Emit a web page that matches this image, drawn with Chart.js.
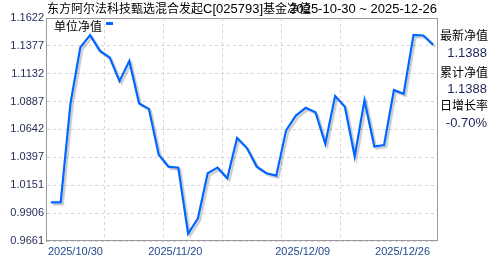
<!DOCTYPE html>
<html>
<head>
<meta charset="utf-8">
<script src="https://cdn.jsdelivr.net/npm/chart.js@4"></script>
<style>
  body { margin: 0; background: #fff; }
  #wrap { position: relative; width: 488px; height: 255px; font-family: 'Liberation Sans', 'Noto Sans CJK SC', sans-serif; }
  #wrap div { position: absolute; white-space: nowrap; }
  .cn { font-size: 12px; line-height: 14px; color: #000; }
  .lat { font-size: 13px; line-height: 14px; color: #000; }
  .num { font-size: 13px; line-height: 15px; color: #1c2458; }
</style>
</head>
<body>
<div id="wrap">
  <canvas id="nav" width="488" height="255"></canvas>
  <div class="lat" id="title" style="left:47px; top:2px;"></div>
  <div class="lat" id="range" style="right:51px; top:2px;"></div>
  <div class="cn" style="left:54px; top:20px;">单位净值<span style="display:inline-block; width:7px; height:3px; background:#0066ff; margin-left:4px; vertical-align:6px;"></span></div>
  <div class="cn" style="left:440px; top:29px;">最新净值</div>
  <div class="num" id="latest" style="right:1px; top:45px;"></div>
  <div class="cn" style="left:440px; top:66px;">累计净值</div>
  <div class="num" id="total" style="right:1px; top:81px;"></div>
  <div class="cn" style="left:440px; top:99px;">日增长率</div>
  <div class="num" id="change" style="right:1px; top:115px;"></div>
</div>
<script>
const fundName = ['东方阿尔法科技甄选混合发起', 'C[025793]', '基金净值'];

const dates = [
  '2025-10-30',
  '2025-11-04', '2025-11-05', '2025-11-06', '2025-11-07',
  '2025-11-10', '2025-11-11', '2025-11-12', '2025-11-13', '2025-11-14',
  '2025-11-17', '2025-11-18', '2025-11-19', '2025-11-20', '2025-11-21',
  '2025-11-24', '2025-11-25', '2025-11-26', '2025-11-27', '2025-11-28',
  '2025-12-01', '2025-12-02', '2025-12-03', '2025-12-04', '2025-12-05',
  '2025-12-08', '2025-12-09', '2025-12-10', '2025-12-11', '2025-12-12',
  '2025-12-15', '2025-12-16', '2025-12-17', '2025-12-18', '2025-12-19',
  '2025-12-22', '2025-12-23', '2025-12-24', '2025-12-25', '2025-12-26'
];

const unitNav = [
  1.0000, 1.0000, 1.0870, 1.1363, 1.1472, 1.1333, 1.1274, 1.1067, 1.1244, 1.0870,
  1.0823, 1.0419, 1.0315, 1.0306, 0.9726, 0.9859, 1.0257, 1.0306, 1.0212, 1.0567,
  1.0478, 1.0315, 1.0257, 1.0236, 1.0634, 1.0764, 1.0832, 1.0793, 1.0516, 1.0935,
  1.0841, 1.0404, 1.0899, 1.0492, 1.0505, 1.0988, 1.0956, 1.1474, 1.1468, 1.1388
];

const yTicks = [0.9661, 0.9906, 1.0151, 1.0397, 1.0642, 1.0887, 1.1132, 1.1377, 1.1622];
const xTickDates = ['2025-10-30', '2025-11-20', '2025-12-09', '2025-12-26'];

// texts around the chart
const last = unitNav[unitNav.length - 1];
const prev = unitNav[unitNav.length - 2];
const title = document.getElementById('title');
fundName.forEach((t, i) => {
  const s = document.createElement('span');
  s.textContent = t;
  if (i !== 1) s.style.fontSize = '12px';
  title.appendChild(s);
});
document.getElementById('range').textContent = dates[0] + ' ~ ' + dates[dates.length - 1];
document.getElementById('latest').textContent = last.toFixed(4);
document.getElementById('total').textContent = last.toFixed(4);
document.getElementById('change').textContent = ((last / prev - 1) * 100).toFixed(2) + '%';

const gridDash = { display: true, color: '#d6d6d6', lineWidth: 1, drawTicks: false };

// shadow under the line + box round the plot
const lineShadow = {
  id: 'lineShadow',
  beforeDatasetsDraw(chart) {
    const c = chart.ctx;
    c.save();
    c.shadowColor = 'rgba(0,0,0,0.22)';
    c.shadowOffsetX = 2;
    c.shadowOffsetY = 2;
    c.shadowBlur = 1;
  },
  afterDatasetsDraw(chart) {
    chart.ctx.restore();
  },
  afterDraw(chart) {
    const a = chart.chartArea, c = chart.ctx;
    c.save();
    c.strokeStyle = '#9a9a9a';
    c.lineWidth = 1;
    c.strokeRect(Math.round(a.left) + 0.5, Math.round(a.top) + 0.5, Math.round(a.right - a.left) - 1, Math.round(a.bottom - a.top) - 1);
    c.restore();
  }
};

new Chart(document.getElementById('nav'), {
  type: 'line',
  data: {
    labels: dates,
    datasets: [{
      label: '单位净值',
      data: unitNav,
      borderColor: '#0066ff',
      borderWidth: 2.2,
      pointRadius: 0,
      tension: 0,
      fill: false
    }]
  },
  options: {
    responsive: false,
    animation: false,
    layout: { padding: { top: 18, right: 50, left: 0, bottom: 0 } },
    scales: {
      x: {
        type: 'category',
        offset: true,
        grid: { display: false, drawTicks: false },
        border: { display: false },
        afterFit: s => { s.height = 14; },
        ticks: {
          autoSkip: false,
          maxRotation: 0,
          align: 'inner',
          labelOffset: -3,
          padding: 4,
          color: '#24498f',
          font: { family: 'Liberation Sans', size: 11 },
          callback: function (v) {
            const d = this.getLabelForValue(v);
            return xTickDates.includes(d) ? d.replace(/-/g, '/') : null;
          }
        }
      },
      xg: {
        type: 'linear',
        position: 'bottom',
        min: 0,
        max: 1,
        afterFit: s => { s.height = 0; },
        afterBuildTicks: s => { s.ticks = [0.15, 0.3, 0.45, 0.6, 0.75].map(v => ({ value: v })); },
        grid: gridDash,
        border: { display: false, dash: [3, 3] },
        ticks: { display: false }
      },
      y: {
        min: yTicks[0],
        max: yTicks[yTicks.length - 1],
        afterFit: s => { s.width = 46; },
        afterBuildTicks: s => { s.ticks = yTicks.map(v => ({ value: v })); },
        grid: gridDash,
        border: { display: true, color: '#9a9a9a', dash: [3, 3] },
        ticks: {
          padding: 2,
          color: '#1f2a55',
          font: { family: 'Liberation Sans', size: 11 },
          callback: v => v.toFixed(4)
        }
      }
    },
    plugins: {
      legend: { display: false },
      tooltip: { enabled: false }
    }
  },
  plugins: [lineShadow]
});
</script>
</body>
</html>
